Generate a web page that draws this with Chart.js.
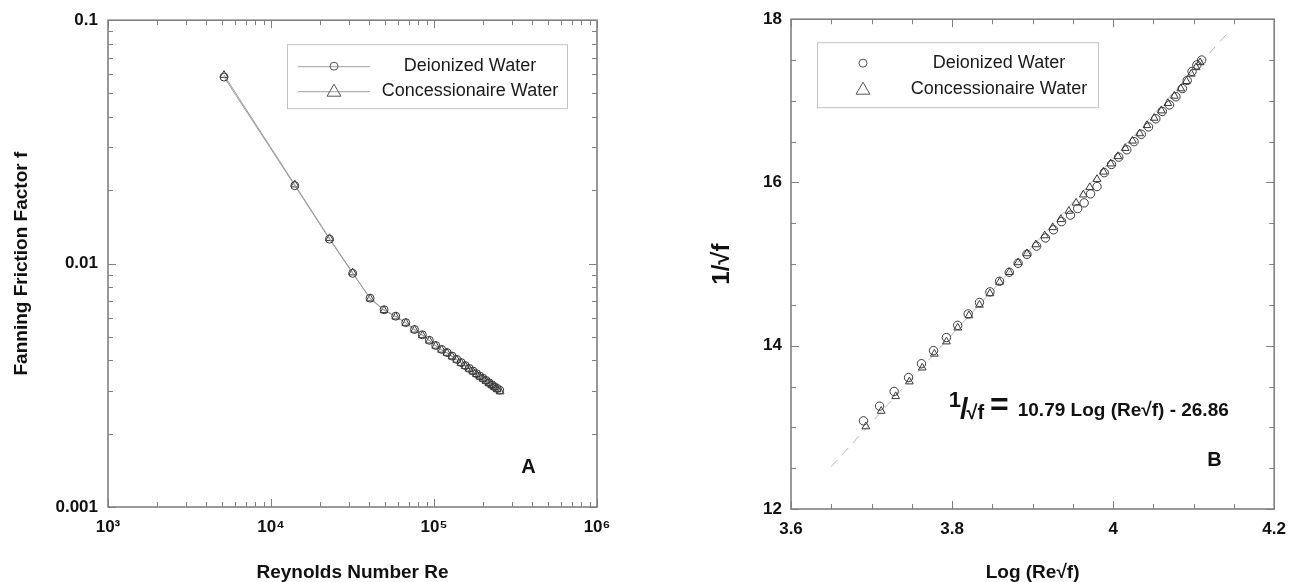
<!DOCTYPE html>
<html>
<head>
<meta charset="utf-8">
<script src="https://cdn.jsdelivr.net/npm/chart.js@4.4.0/dist/chart.umd.min.js"></script>
<style>
html, body { margin: 0; padding: 0; background: #fff; }
#wrap { position: relative; width: 1296px; height: 582px; }
.panel { position: absolute; top: 0; width: 648px; height: 582px; }
</style>
</head>
<body>
<div id="wrap">
  <div class="panel" style="left:0"><canvas id="chartA" width="648" height="582"></canvas></div>
  <div class="panel" style="left:648px"><canvas id="chartB" width="648" height="582"></canvas></div>
</div>
<script>
// panel A : Fanning friction factor vs Reynolds number
const reDeionized = [5150, 14000, 22850, 31700, 40550, 49400, 58250, 67100, 75950, 84800, 93650, 102500, 111350, 120200, 129050, 137900, 146750, 155600, 164450, 173300, 182150, 191000, 199850, 208700, 217550, 226400, 235250, 244100, 252950];
const fDeionized = [0.0584, 0.0209, 0.0126, 0.00912, 0.00721, 0.00646, 0.00608, 0.00572, 0.00536, 0.00510, 0.00484, 0.00461, 0.00444, 0.00431, 0.00417, 0.00404, 0.00392, 0.00381, 0.00371, 0.00362, 0.00353, 0.00345, 0.00338, 0.00331, 0.00324, 0.00318, 0.00312, 0.00307, 0.00302];
const reConcess = [5150, 14000, 22850, 31700, 40550, 49400, 58250, 67100, 75950, 84800, 93650, 102500, 111350, 120200, 129050, 137900, 146750, 155600, 164450, 173300, 182150, 191000, 199850, 208700, 217550, 226400, 235250, 244100, 254500];
const fConcess = [0.0595, 0.0211, 0.0127, 0.00918, 0.00718, 0.00643, 0.00605, 0.00570, 0.00534, 0.00507, 0.00482, 0.00459, 0.00442, 0.00429, 0.00415, 0.00402, 0.00390, 0.00379, 0.00369, 0.00360, 0.00351, 0.00343, 0.00336, 0.00329, 0.00322, 0.00316, 0.00310, 0.00304, 0.00298];

const reTicks = [1e3, 1e4, 1e5, 1e6];
const reTickLabels = ['10³', '10⁴', '10⁵', '10⁶'];
const fTicks = [0.001, 0.01, 0.1];
const fTickLabels = ['0.001', '0.01', '0.1'];
const minorSteps = [2, 3, 4, 5, 6, 7, 8, 9];

// panel B : 1/sqrt(f) vs log(Re sqrt(f))
const logDeionized = [3.690, 3.710, 3.728, 3.746, 3.762, 3.777, 3.793, 3.807, 3.820, 3.834, 3.847, 3.859, 3.871, 3.882, 3.893, 3.905, 3.916, 3.926, 3.936, 3.947, 3.956, 3.964, 3.972, 3.980, 3.989, 3.998, 4.007, 4.017, 4.026, 4.035, 4.044, 4.053, 4.061, 4.070, 4.078, 4.086, 4.092, 4.098, 4.104, 4.110];
const invDeionized = [13.08, 13.26, 13.44, 13.61, 13.78, 13.94, 14.10, 14.25, 14.39, 14.53, 14.66, 14.79, 14.90, 15.01, 15.12, 15.22, 15.32, 15.42, 15.52, 15.60, 15.68, 15.75, 15.86, 15.95, 16.12, 16.22, 16.31, 16.40, 16.50, 16.59, 16.68, 16.78, 16.87, 16.95, 17.05, 17.15, 17.25, 17.36, 17.44, 17.50];
const logConcess = [3.693, 3.712, 3.730, 3.747, 3.763, 3.778, 3.793, 3.807, 3.821, 3.834, 3.847, 3.859, 3.871, 3.882, 3.893, 3.904, 3.915, 3.925, 3.935, 3.945, 3.954, 3.963, 3.971, 3.980, 3.988, 3.997, 4.006, 4.015, 4.024, 4.033, 4.042, 4.051, 4.060, 4.068, 4.076, 4.084, 4.091, 4.097, 4.103, 4.108];
const invConcess = [13.01, 13.20, 13.38, 13.56, 13.73, 13.90, 14.05, 14.22, 14.37, 14.50, 14.64, 14.78, 14.90, 15.02, 15.13, 15.24, 15.35, 15.45, 15.55, 15.65, 15.75, 15.85, 15.94, 16.04, 16.13, 16.23, 16.32, 16.42, 16.51, 16.60, 16.70, 16.79, 16.88, 16.97, 17.06, 17.15, 17.24, 17.33, 17.41, 17.47];
const fitLog = [3.65, 4.146];
const fitInv = [12.52, 17.87];

const logTicks = [3.6, 3.8, 4.0, 4.2];
const logTickLabels = ['3.6', '3.8', '4', '4.2'];
const logMinor = [3.65, 3.7, 3.75, 3.85, 3.9, 3.95, 4.05, 4.1, 4.15];
const invTicks = [12, 14, 16, 18];
const invTickLabels = ['12', '14', '16', '18'];
const invMinor = [12.5, 13, 13.5, 14.5, 15, 15.5, 16.5, 17, 17.5];

const FONT = '"Liberation Sans", Arial, Helvetica, sans-serif';
Chart.defaults.font.family = FONT;
Chart.defaults.color = '#111';

function pts(xs, ys) {
    return xs.map((x, i) => ({ x: x, y: ys[i] }));
}

function drawMarker(ctx, style, x, y, r) {
    ctx.beginPath();
    if (style === 'triangle') {
        ctx.moveTo(x, y - r);
        ctx.lineTo(x + r * 0.866, y + r * 0.5);
        ctx.lineTo(x - r * 0.866, y + r * 0.5);
        ctx.closePath();
    } else {
        ctx.arc(x, y, r, 0, Math.PI * 2);
    }
    ctx.stroke();
}

// frame all round and inward ticks on the four sides
const framePlugin = {
    id: 'frame',
    afterDatasetsDraw(chart, args, o) {
        const { ctx, chartArea: a } = chart;
        const sx = chart.scales.x, sy = chart.scales.y;
        ctx.save();
        ctx.strokeStyle = '#808080';
        ctx.lineWidth = 1;
        ctx.beginPath();
        const vt = (v, len) => {
            const p = Math.round(sx.getPixelForValue(v)) + 0.5;
            ctx.moveTo(p, a.bottom); ctx.lineTo(p, a.bottom - len);
            ctx.moveTo(p, a.top); ctx.lineTo(p, a.top + len);
        };
        const ht = (v, len) => {
            const p = Math.round(sy.getPixelForValue(v)) + 0.5;
            ctx.moveTo(a.left, p); ctx.lineTo(a.left + len, p);
            ctx.moveTo(a.right, p); ctx.lineTo(a.right - len, p);
        };
        o.xMajor.forEach(v => vt(v, 8));
        o.xMinor.forEach(v => vt(v, 5));
        o.yMajor.forEach(v => ht(v, 8));
        o.yMinor.forEach(v => ht(v, 5));
        ctx.stroke();
        ctx.lineWidth = 1.6;
        ctx.strokeRect(a.left, a.top, a.right - a.left, a.bottom - a.top);
        ctx.restore();
    }
};

// boxed legend inside the plot
const boxLegend = {
    id: 'boxLegend',
    afterDraw(chart, args, o) {
        const { ctx, chartArea: a } = chart;
        ctx.save();
        ctx.strokeStyle = '#c4c4c4';
        ctx.lineWidth = 1;
        ctx.strokeRect(a.left + o.box[0] + 0.5, a.top + o.box[1] + 0.5, o.box[2] - o.box[0], o.box[3] - o.box[1]);
        ctx.font = '18px ' + FONT;
        ctx.textAlign = 'center';
        ctx.textBaseline = 'middle';
        let row = 0;
        chart.data.datasets.forEach(ds => {
            if (!ds.label) return;
            const y = a.top + o.rows[row];
            if (o.line) {
                ctx.strokeStyle = '#a0a0a0';
                ctx.beginPath();
                ctx.moveTo(a.left + o.line[0], y + 0.5);
                ctx.lineTo(a.left + o.line[1], y + 0.5);
                ctx.stroke();
            }
            ctx.strokeStyle = '#555';
            ctx.lineWidth = 1;
            if (ds.pointStyle === 'triangle') drawMarker(ctx, 'triangle', a.left + o.markerX, y + 1, 8);
            else drawMarker(ctx, 'circle', a.left + o.markerX, y, 4);
            ctx.fillStyle = '#1a1a1a';
            ctx.fillText(ds.label, a.left + o.textX, y);
            row++;
        });
        ctx.restore();
    }
};

// text placed at data coordinates
const textPlugin = {
    id: 'texts',
    afterDraw(chart, args, o) {
        const { ctx } = chart;
        const sx = chart.scales.x, sy = chart.scales.y;
        ctx.save();
        ctx.fillStyle = '#111';
        (o.labels || []).forEach(t => {
            ctx.font = t.font;
            ctx.textAlign = 'center';
            ctx.textBaseline = 'middle';
            ctx.fillText(t.text, sx.getPixelForValue(t.x), sy.getPixelForValue(t.y));
        });
        if (o.equation) {
            const eq = o.equation;
            let x = sx.getPixelForValue(eq.x);
            const base = sy.getPixelForValue(eq.y);
            ctx.textAlign = 'left';
            ctx.textBaseline = 'alphabetic';
            eq.parts.forEach(p => {
                ctx.font = p.font;
                x += p.dx || 0;
                ctx.fillText(p.text, x, base + p.dy);
                x += ctx.measureText(p.text).width;
            });
        }
        ctx.restore();
    }
};

const tickFont = { size: 17, weight: 'bold' };
const titleFont = { size: 19, weight: 'bold', lineHeight: 1 };

function logMinorOf(decades) {
    const out = [];
    decades.forEach(d => minorSteps.forEach(m => out.push(d * m)));
    return out;
}

new Chart(document.getElementById('chartA'), {
    type: 'scatter',
    data: {
        datasets: [
            {
                label: 'Deionized Water',
                data: pts(reDeionized, fDeionized),
                showLine: true,
                borderColor: '#9c9c9c',
                borderWidth: 1,
                pointStyle: 'circle',
                pointRadius: 4,
                pointBorderColor: '#3a3a3a',
                pointBackgroundColor: 'rgba(255,255,255,0)',
                pointBorderWidth: 1
            },
            {
                label: 'Concessionaire Water',
                data: pts(reConcess, fConcess),
                showLine: true,
                borderColor: '#9c9c9c',
                borderWidth: 1,
                pointStyle: 'triangle',
                pointRadius: 4.5,
                pointBorderColor: '#3a3a3a',
                pointBackgroundColor: 'rgba(255,255,255,0)',
                pointBorderWidth: 1
            }
        ]
    },
    options: {
        responsive: false,
        animation: false,
        layout: { padding: { top: 19, right: 51, left: 0, bottom: 0 } },
        scales: {
            x: {
                type: 'logarithmic',
                min: 1e3,
                max: 1e6,
                afterBuildTicks(s) { s.ticks = reTicks.map(v => ({ value: v })); },
                afterFit(s) { s.height = 75; },
                ticks: {
                    font: tickFont,
                    padding: 10,
                    maxRotation: 0,
                    autoSkip: false,
                    callback: (v, i) => reTickLabels[i]
                },
                grid: { display: false, drawTicks: false },
                border: { display: false },
                title: { display: true, text: 'Reynolds Number Re', font: titleFont, padding: { top: 0, bottom: 0 } }
            },
            y: {
                type: 'logarithmic',
                min: 0.001,
                max: 0.1,
                afterBuildTicks(s) { s.ticks = fTicks.map(v => ({ value: v })); },
                afterFit(s) { s.width = 108; },
                ticks: {
                    font: tickFont,
                    padding: 10,
                    autoSkip: false,
                    callback: (v, i) => fTickLabels[i]
                },
                grid: { display: false, drawTicks: false },
                border: { display: false },
                title: { display: true, text: 'Fanning Friction Factor f', font: titleFont, padding: { top: 12, bottom: 0 } }
            }
        },
        plugins: {
            legend: { display: false },
            tooltip: { enabled: false },
            frame: {
                xMajor: reTicks,
                xMinor: logMinorOf([1e3, 1e4, 1e5]),
                yMajor: fTicks,
                yMinor: logMinorOf([0.001, 0.01])
            },
            boxLegend: { box: [179, 24, 459, 88], rows: [46, 71], line: [190, 262], markerX: 226, textX: 362 },
            texts: { labels: [{ text: 'A', x: 3.8e5, y: 0.00145, font: 'bold 20px ' + FONT }] }
        }
    },
    plugins: [framePlugin, boxLegend, textPlugin]
});

new Chart(document.getElementById('chartB'), {
    type: 'scatter',
    data: {
        datasets: [
            {
                label: 'Deionized Water',
                data: pts(logDeionized, invDeionized),
                pointStyle: 'circle',
                pointRadius: 4.2,
                pointBorderColor: '#3a3a3a',
                pointBackgroundColor: 'rgba(255,255,255,0)',
                pointBorderWidth: 1
            },
            {
                label: 'Concessionaire Water',
                data: pts(logConcess, invConcess),
                pointStyle: 'triangle',
                pointRadius: 4.5,
                pointBorderColor: '#3a3a3a',
                pointBackgroundColor: 'rgba(255,255,255,0)',
                pointBorderWidth: 1
            },
            {
                label: '',
                data: pts(fitLog, fitInv),
                showLine: true,
                borderColor: '#b8b8b8',
                borderWidth: 1,
                borderDash: [9, 7],
                pointRadius: 0
            }
        ]
    },
    options: {
        responsive: false,
        animation: false,
        layout: { padding: { top: 19, right: 14, left: 0, bottom: 0 } },
        scales: {
            x: {
                type: 'linear',
                min: 3.6,
                max: 4.2,
                afterBuildTicks(s) { s.ticks = logTicks.map(v => ({ value: v })); },
                afterFit(s) { s.height = 73; },
                ticks: {
                    font: tickFont,
                    padding: 10,
                    maxRotation: 0,
                    autoSkip: false,
                    callback: (v, i) => logTickLabels[i]
                },
                grid: { display: false, drawTicks: false },
                border: { display: false },
                title: { display: true, text: 'Log (Re√f)', font: titleFont, padding: { top: 0, bottom: 0 } }
            },
            y: {
                type: 'linear',
                min: 12,
                max: 18,
                afterBuildTicks(s) { s.ticks = invTicks.map(v => ({ value: v })); },
                afterFit(s) { s.width = 143; },
                ticks: {
                    font: tickFont,
                    padding: 9,
                    autoSkip: false,
                    callback: (v, i) => invTickLabels[i]
                },
                grid: { display: false, drawTicks: false },
                border: { display: false },
                title: { display: true, text: '1/√f', font: { size: 24, weight: 'bold', lineHeight: 1 }, padding: { top: 62, bottom: 0 } }
            }
        },
        plugins: {
            legend: { display: false },
            tooltip: { enabled: false },
            frame: { xMajor: logTicks, xMinor: logMinor, yMajor: invTicks, yMinor: invMinor },
            boxLegend: { box: [26, 23, 307, 88], rows: [44, 70], markerX: 72, textX: 208 },
            texts: {
                labels: [{ text: 'B', x: 4.126, y: 12.59, font: 'bold 20px ' + FONT }],
                equation: {
                    x: 3.796,
                    y: 13.14,
                    parts: [
                        { text: '1', font: 'bold 22px ' + FONT, dy: -9 },
                        { text: '/', font: 'bold 30px ' + FONT, dy: 3, dx: -1 },
                        { text: '√f', font: 'bold 20px ' + FONT, dy: 3, dx: -2 },
                        { text: '=', font: 'bold 32px ' + FONT, dy: -1, dx: 6 },
                        { text: '10.79 Log (Re√f) - 26.86', font: 'bold 19px ' + FONT, dy: 0, dx: 9 }
                    ]
                }
            }
        }
    },
    plugins: [framePlugin, boxLegend, textPlugin]
});
</script>
</body>
</html>
